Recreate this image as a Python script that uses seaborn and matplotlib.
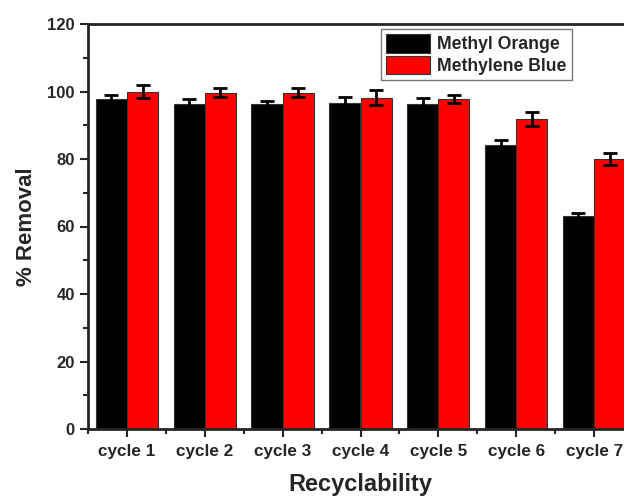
import matplotlib
matplotlib.use("Agg")
import matplotlib.pyplot as plt
import seaborn as sns
import pandas as pd
from matplotlib.ticker import MultipleLocator, FixedLocator

cycles = ["cycle 1", "cycle 2", "cycle 3", "cycle 4", "cycle 5", "cycle 6", "cycle 7"]
methyl_orange = [97.7, 96.4, 96.2, 96.7, 96.4, 84.1, 63.1]
methyl_orange_err = [1.4, 1.3, 1.0, 1.8, 1.6, 1.6, 1.0]
methylene_blue = [99.9, 99.7, 99.7, 98.2, 97.8, 91.8, 79.9]
methylene_blue_err = [1.9, 1.4, 1.3, 2.1, 1.2, 2.0, 1.8]
series = ["Methyl Orange", "Methylene Blue"]
colors = ["#000000", "#FF0000"]

df = pd.DataFrame({
    "cycle": cycles * 2,
    "value": methyl_orange + methylene_blue,
    "dye": [series[0]] * len(cycles) + [series[1]] * len(cycles),
})

sns.set_style("ticks")
plt.rcParams["font.family"] = ["Liberation Sans", "DejaVu Sans"]
plt.rcParams["font.weight"] = "bold"

fig = plt.figure(figsize=(6.24, 4.96), dpi=100)
ax = fig.add_axes([88 / 624, 67 / 496, 545 / 624, 405 / 496])

sns.barplot(data=df, x="cycle", y="value", hue="dye", palette=colors,
            errorbar=None, width=0.8, edgecolor="#333333", linewidth=0.8,
            saturation=1, ax=ax)

# error bars at bar centres
for cont, errs in zip(ax.containers, [methyl_orange_err, methylene_blue_err]):
    xs = [p.get_x() + p.get_width() / 2 for p in cont.patches]
    ys = [p.get_height() for p in cont.patches]
    ax.errorbar(xs, ys, yerr=errs, fmt="none", ecolor="black",
                elinewidth=2, capsize=5, capthick=2, zorder=5)

ax.set_xlim(-0.5, 6.5)
ax.set_ylim(0, 120)
ax.yaxis.set_major_locator(MultipleLocator(20))
ax.yaxis.set_minor_locator(MultipleLocator(10))
ax.xaxis.set_minor_locator(FixedLocator([i + 0.5 for i in range(-1, 7)]))

for s in ax.spines.values():
    s.set_linewidth(2)
    s.set_visible(True)
ax.tick_params(axis="both", which="major", direction="out", length=6, width=1.5)
ax.tick_params(axis="x", which="major", labelsize=12.3, pad=5)
ax.tick_params(axis="y", which="major", labelsize=12)
ax.tick_params(axis="both", which="minor", direction="out", length=3.5, width=1.5)
for lbl in ax.get_xticklabels() + ax.get_yticklabels():
    lbl.set_fontweight("bold")

ax.set_xlabel("Recyclability", fontsize=17, fontweight="bold", labelpad=10)
ax.set_ylabel("% Removal", fontsize=16, fontweight="bold", labelpad=7.5)

leg = ax.legend(loc="upper left", bbox_to_anchor=(293 / 545, 0.988), fontsize=12.7,
                frameon=True, fancybox=False, edgecolor="#555555",
                handlelength=2.5, handleheight=1.25, handletextpad=0.4,
                borderpad=0.3, labelspacing=0.12, borderaxespad=0)
leg.get_frame().set_linewidth(1)
for t in leg.get_texts():
    t.set_fontweight("bold")

fig.savefig("out.png", dpi=100)
